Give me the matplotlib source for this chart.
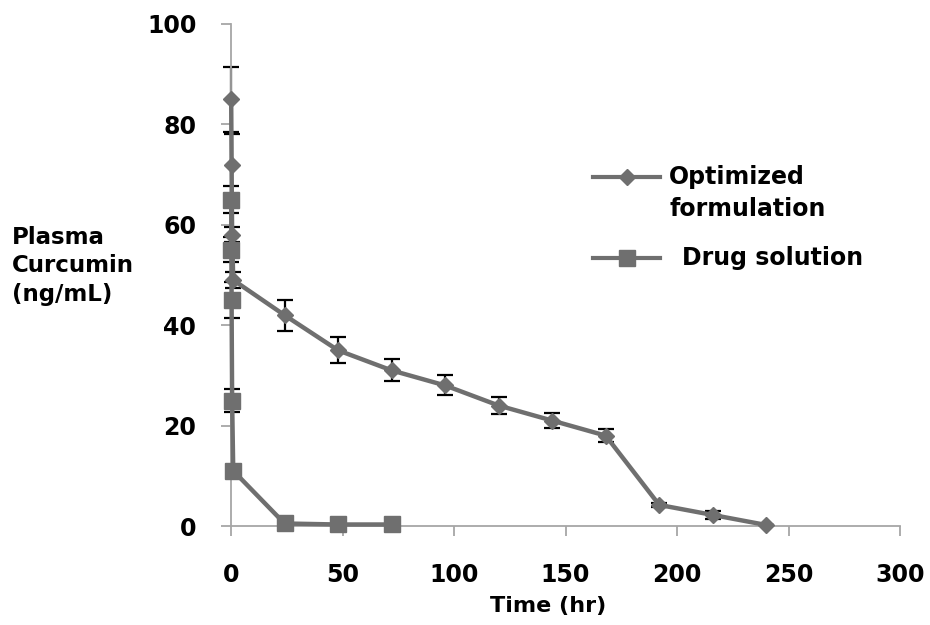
import numpy as np
import matplotlib
matplotlib.use('Agg')
import matplotlib.pyplot as plt
from matplotlib.lines import Line2D

# data
opt_time = [0.08, 0.25, 0.5, 1, 24, 48, 72, 96, 120, 144, 168, 192, 216, 240]
opt_conc = [85, 72, 58, 49, 42, 35, 31, 28, 24, 21, 18, 4.2, 2.2, 0.2]
opt_err = [6.5, 6.0, 1.5, 1.5, 3.1, 2.6, 2.2, 2.0, 1.7, 1.5, 1.3, 0.4, 0.8, 0.0]

drug_time = [0.08, 0.17, 0.25, 0.5, 1, 24, 48, 72]
drug_conc = [65, 55, 45, 25, 11, 0.5, 0.3, 0.3]
drug_err = [2.7, 2.5, 3.6, 2.2, 0.5, 0.0, 0.0, 0.0]

xticks = [0, 50, 100, 150, 200, 250, 300]
yticks = [0, 20, 40, 60, 80, 100]

grey = '#6f6f6f'
axis_grey = '#a6a6a6'

plt.rcParams['font.family'] = ['DejaVu Sans']
plt.rcParams['font.weight'] = 'bold'

fig = plt.figure(figsize=(9.3, 6.25), dpi=100)
ax = fig.add_axes([0.2484, 0.1584, 0.7194, 0.8032])

ax.plot(opt_time, opt_conc, color=grey, lw=3.2, marker='D', ms=8, clip_on=False, zorder=3)
ax.plot(drug_time, drug_conc, color=grey, lw=3.2, marker='s', ms=11, clip_on=False, zorder=3)
# error bars sit under the series, only the parts outside the line show
ax.errorbar(opt_time, opt_conc, yerr=opt_err, fmt='none', ecolor='black', elinewidth=1.6,
            capsize=5.5, capthick=1.6, zorder=2, clip_on=False)
ax.errorbar(drug_time, drug_conc, yerr=drug_err, fmt='none', ecolor='black', elinewidth=1.6,
            capsize=5.5, capthick=1.6, zorder=2, clip_on=False)

ax.set_xlim(0, 300)
ax.set_ylim(0, 100)
ax.set_xticks(xticks)
ax.set_yticks(yticks)
for s in ['top', 'right']:
    ax.spines[s].set_visible(False)
for s in ['left', 'bottom']:
    ax.spines[s].set_color(axis_grey)
    ax.spines[s].set_linewidth(1.3)
ax.tick_params(axis='both', direction='out', length=7, width=1.3, color=axis_grey,
               labelsize=17)
ax.tick_params(axis='y', pad=18)
ax.tick_params(axis='x', pad=20)
for lab in ax.get_xticklabels() + ax.get_yticklabels():
    lab.set_fontweight('bold')

fig.text(548, 625 - 606, 'Time (hr)', fontsize=16, fontweight='bold', ha='center',
         va='center', transform=None)
fig.text(12, 625 - 266, 'Plasma\nCurcumin\n(ng/mL)', fontsize=16.5, fontweight='bold',
         ha='left', va='center', linespacing=1.3, transform=None)

# legend drawn by hand so the handle sits on the first text line
fig.add_artist(Line2D([593, 627, 660], [625 - 177] * 3, color=grey, lw=3, marker='D',
                      ms=8, markevery=[1], transform=None))
fig.add_artist(Line2D([593, 627, 660], [625 - 258] * 3, color=grey, lw=3, marker='s',
                      ms=11, markevery=[1], transform=None))
fig.text(669, 625 - 177, 'Optimized', fontsize=17, fontweight='bold', va='center',
         transform=None)
fig.text(669, 625 - 209, 'formulation', fontsize=17, fontweight='bold', va='center',
         transform=None)
fig.text(682, 625 - 258, 'Drug solution', fontsize=17, fontweight='bold', va='center',
         transform=None)

fig.savefig('out.png', dpi=100)
